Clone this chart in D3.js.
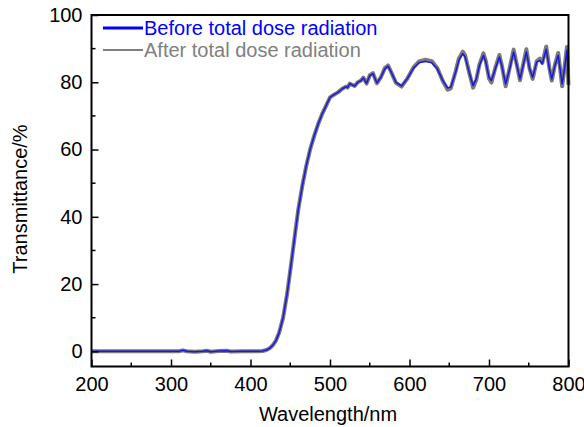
<!DOCTYPE html>
<html>
<head>
<meta charset="utf-8">
<script src="https://cdn.jsdelivr.net/npm/d3@7"></script>
<style>
  body { margin: 0; background: #fff; }
  svg text { font-family: "Liberation Sans", Arial, sans-serif; }
</style>
</head>
<body>
<div id="chart"></div>
<script>
// wavelength (nm)
const wavelength = [200, 250, 300, 310, 315, 320, 330, 340, 345, 350, 360, 370, 375, 390, 410, 415, 420, 424, 428, 432,
  436, 441, 446, 450, 455, 460, 465, 470, 475, 480, 485, 490, 495, 500, 505, 510, 515, 520, 522, 525,
  528, 531, 535, 539, 542, 546, 550, 554, 559, 564, 569, 573, 577, 583, 590, 597, 605, 612, 620, 628,
  635, 642, 648, 652, 658, 662, 667, 670, 675, 680, 684, 688, 693, 696, 700, 703, 708, 713, 716, 721,
  726, 731, 735, 739, 743, 747, 751, 755, 760, 764, 767, 772, 776, 779, 783, 787, 790, 792, 795, 798, 800];

// transmittance (%) before irradiation
const before = [0, 0, 0, 0.05, 0.3, 0.05, -0.1, 0.05, 0.2, -0.1, 0.1, 0.2, -0.05, 0, 0, 0.1, 0.4, 0.9, 1.8, 3.2,
  5.5, 10, 17, 24, 33, 42, 49, 55, 60, 64, 67.5, 70.5, 73, 75.5, 76.3, 77, 78, 78.7, 78.4, 79.6,
  79.2, 78.9, 80, 80.5, 81.3, 79.7, 82, 82.6, 79.8, 81.5, 84, 84.8, 83, 80, 78.9, 81, 84.2, 85.8, 86.2, 85.8,
  84, 80.5, 78.3, 78.6, 83, 86.5, 88.5, 87.5, 83, 79, 81, 85, 88, 86, 81.5, 80.5, 84, 87.5, 85, 79.5,
  84, 89, 85, 81, 85, 89, 84, 81.5, 86, 86.5, 85.5, 89.8, 84, 81, 85, 88, 83, 79.5, 84, 89.5, 80];

// transmittance (%) after total dose radiation
const after = [0, 0, 0, 0.05, 0.3, 0.05, -0.1, 0.05, 0.2, -0.1, 0.1, 0.2, -0.05, 0, 0, 0.1, 0.4, 0.9, 1.8, 3.2,
  5.5, 10, 17, 24, 33, 42, 49, 55, 60, 64, 67.5, 70.5, 73, 75.5, 76.3, 77, 78, 78.7, 78.4, 79.6,
  79.2, 78.9, 80, 80.5, 81.4, 79.6, 82.1, 82.7, 79.7, 81.5, 84.2, 85, 83, 79.8, 78.7, 81, 84.4, 86.2, 86.7, 86.3,
  84.2, 80.3, 77.8, 78.2, 83.2, 87, 89.1, 88, 83, 78.4, 80.7, 85.3, 88.6, 86.3, 81.2, 79.9, 84.3, 88.1, 85.2, 78.8,
  84.3, 89.7, 85.2, 80.6, 85.3, 89.8, 84.1, 81, 86.3, 87, 85.7, 90.6, 84.2, 80.5, 85.3, 88.7, 83, 78.8, 84.3, 90.5, 79.2];

const xTicks = [200, 300, 400, 500, 600, 700, 800];
const yTicks = [0, 20, 40, 60, 80, 100];

const width = 584, height = 427;
const margin = { top: 15, right: 15.5, bottom: 60.5, left: 91.5 };

const svg = d3.select('#chart')
  .append("svg")
  .attr("width", width)
  .attr("height", height);

const x = d3.scaleLinear()
  .domain([200, 800])
  .range([margin.left, width - margin.right]);

const y = d3.scaleLinear()
  .domain([-4.5, 100])
  .range([height - margin.bottom, margin.top]);

// curves: gray (after) drawn wider underneath, blue (before) on top
const line = d3.line()
  .x((d, i) => x(wavelength[i]))
  .y(d => y(d));

svg.append("path")
  .datum(after)
  .attr("d", line)
  .attr("fill", "none")
  .attr("stroke", "#7a7a7a")
  .attr("stroke-width", 4)
  .attr("stroke-linejoin", "round");

svg.append("path")
  .datum(before)
  .attr("d", line)
  .attr("fill", "none")
  .attr("stroke", "#0000ff")
  .attr("stroke-opacity", 0.8)
  .attr("stroke-width", 1.5)
  .attr("stroke-linejoin", "round");

// bottom axis, ticks pointing in
const xAxis = svg.append("g")
  .attr("transform", `translate(0,${height - margin.bottom})`)
  .call(d3.axisBottom(x).tickValues(xTicks).tickSize(-7).tickPadding(10).tickSizeOuter(0));
xAxis.append("g").selectAll("line")
  .data(d3.range(250, 800, 100))
  .join("line")
  .attr("x1", d => x(d)).attr("x2", d => x(d))
  .attr("y1", 0).attr("y2", -4)
  .attr("stroke", "#000").attr("stroke-width", 1.5);

// left axis
const yAxis = svg.append("g")
  .attr("transform", `translate(${margin.left},0)`)
  .call(d3.axisLeft(y).tickValues(yTicks).tickSize(-7).tickPadding(9).tickSizeOuter(0));
yAxis.append("g").selectAll("line")
  .data(d3.range(10, 100, 20))
  .join("line")
  .attr("x1", 0).attr("x2", 4)
  .attr("y1", d => y(d)).attr("y2", d => y(d))
  .attr("stroke", "#000").attr("stroke-width", 1.5);

svg.selectAll(".tick line").attr("stroke-width", 1.5);
svg.selectAll(".tick text")
  .attr("font-size", 20)
  .attr("fill", "#000");
svg.selectAll(".domain").remove();

// frame
svg.append("rect")
  .attr("x", margin.left)
  .attr("y", margin.top)
  .attr("width", width - margin.left - margin.right)
  .attr("height", height - margin.top - margin.bottom)
  .attr("fill", "none")
  .attr("stroke", "#000")
  .attr("stroke-width", 2);

// axis titles
svg.append("text")
  .attr("x", 328)
  .attr("y", 421)
  .attr("text-anchor", "middle")
  .attr("font-size", 20)
  .text("Wavelength/nm");

svg.append("text")
  .attr("transform", "rotate(-90)")
  .attr("x", -199)
  .attr("y", 27)
  .attr("text-anchor", "middle")
  .attr("font-size", 20)
  .text("Transmittance/%");

// legend
const legend = [
  { name: "Before total dose radiation", color: "#0000ff", text: "#0000ff", w: 3 },
  { name: "After total dose radiation", color: "#808080", text: "#808080", w: 2 }
];
const lg = svg.append("g");
legend.forEach((d, i) => {
  const ly = 28 + i * 22;
  lg.append("line")
    .attr("x1", 103).attr("x2", 143)
    .attr("y1", ly).attr("y2", ly)
    .attr("stroke", d.color).attr("stroke-width", d.w);
  lg.append("text")
    .attr("x", 144)
    .attr("y", ly + 7)
    .attr("font-size", 20)
    .attr("fill", d.text)
    .text(d.name);
});
</script>
</body>
</html>
